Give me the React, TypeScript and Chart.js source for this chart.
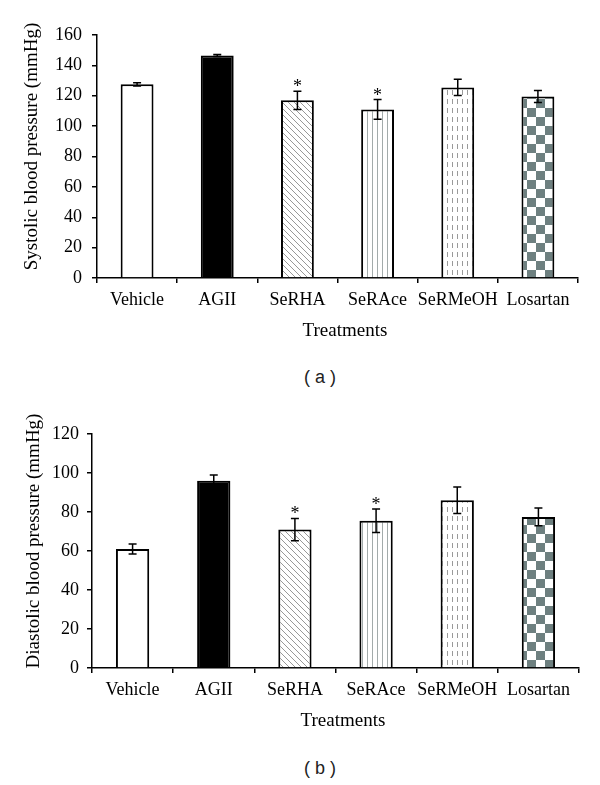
import React, { useEffect, useRef } from 'react';
import { Chart, registerables } from 'chart.js';

Chart.register(...registerables);

// ---------- data ----------
const categories = ['Vehicle', 'AGII', 'SeRHA', 'SeRAce', 'SeRMeOH', 'Losartan'];

const systolicMeans = [127.5, 146.5, 117, 111, 125.5, 119.5];
const systolicErrors = [1, 0.7, 6, 6.5, 5.3, 4];
const systolicSignificant = [false, false, true, true, false, false];
const systolicMax = 160;

const diastolicMeans = [61, 96, 71, 75.5, 86, 77.5];
const diastolicErrors = [2.6, 3, 5.7, 6, 6.8, 4.5];
const diastolicSignificant = [false, false, true, true, false, false];
const diastolicMax = 120;

const tickStep = 20;
const fillKinds = ['white', 'black', 'diag', 'vert', 'dash', 'check'];

const SERIF = "'Liberation Serif', 'Times New Roman', serif";
const SANS = "'Liberation Sans', Arial, sans-serif";

function makeFill(kind: string): any {
  if (kind === 'white') return '#ffffff';
  if (kind === 'black') return '#000000';
  const c = document.createElement('canvas');
  const g = c.getContext('2d') as CanvasRenderingContext2D;
  if (kind === 'diag') {
    c.width = 6; c.height = 6;
    g.fillStyle = '#fff'; g.fillRect(0, 0, 6, 6);
    g.strokeStyle = '#8c8c8c'; g.lineWidth = 0.9;
    g.beginPath();
    g.moveTo(0, 0); g.lineTo(6, 6);
    g.moveTo(-3, 3); g.lineTo(3, 9);
    g.moveTo(3, -3); g.lineTo(9, 3);
    g.stroke();
  } else if (kind === 'vert') {
    c.width = 5; c.height = 4;
    g.fillStyle = '#fff'; g.fillRect(0, 0, 5, 4);
    g.fillStyle = '#a3abab'; g.fillRect(2, 0, 1, 4);
  } else if (kind === 'dash') {
    c.width = 5; c.height = 9;
    g.fillStyle = '#fff'; g.fillRect(0, 0, 5, 9);
    g.fillStyle = '#9a9a9a'; g.fillRect(2, 0, 1, 5);
  } else if (kind === 'check') {
    c.width = 18; c.height = 18;
    g.fillStyle = '#fff'; g.fillRect(0, 0, 18, 18);
    g.fillStyle = '#6e8080';
    g.fillRect(0, 0, 9, 9); g.fillRect(9, 9, 9, 9);
  }
  const pat = g.createPattern(c, 'repeat') as CanvasPattern;
  if (kind === 'check' && pat && typeof DOMMatrix !== 'undefined') {
    pat.setTransform(new DOMMatrix().translate(5, 0));
  }
  return pat;
}

const errorBarPlugin = {
  id: 'errorBars',
  afterDatasetsDraw(chart: any, _args: any, opts: any) {
    const { ctx } = chart;
    const y = chart.scales.y;
    const meta = chart.getDatasetMeta(0);
    const values = chart.data.datasets[0].data as number[];
    ctx.save();
    ctx.strokeStyle = '#000';
    ctx.fillStyle = '#000';
    ctx.lineWidth = 1.5;
    meta.data.forEach((bar: any, i: number) => {
      const x = bar.x;
      const top = y.getPixelForValue(values[i] + opts.errors[i]);
      const bot = y.getPixelForValue(values[i] - opts.errors[i]);
      ctx.beginPath();
      ctx.moveTo(x, top); ctx.lineTo(x, bot);
      ctx.moveTo(x - 4, top); ctx.lineTo(x + 4, top);
      ctx.moveTo(x - 4, bot); ctx.lineTo(x + 4, bot);
      ctx.stroke();
      if (opts.stars[i]) {
        ctx.font = `18px ${SERIF}`;
        ctx.textAlign = 'center';
        ctx.textBaseline = 'alphabetic';
        ctx.fillText('*', x, top + 1);
      }
    });
    ctx.restore();
  },
};

const axisTitlePlugin = {
  id: 'axisTitles',
  afterDraw(chart: any, _args: any, o: any) {
    const { ctx, chartArea: ca } = chart;
    ctx.save();
    ctx.fillStyle = '#000';
    ctx.font = `19px ${SERIF}`;
    ctx.textAlign = 'center';
    ctx.textBaseline = 'middle';
    ctx.fillText(o.xTitle, (ca.left + ca.right) / 2 + o.xShift, ca.bottom + o.xGap);
    ctx.translate(o.yX, (ca.top + ca.bottom) / 2 + o.yShift);
    ctx.rotate(-Math.PI / 2);
    ctx.fillText(o.yTitle, 0, 0);
    ctx.restore();
  },
};

type PanelProps = {
  top: number;
  means: number[];
  errors: number[];
  stars: boolean[];
  yMax: number;
  yTitle: string;
  caption: string;
  padTop: number;
  axisX: number;
  padRight: number;
  tickPad: number;
  yTitleX: number;
  captionY: number;
};

function Panel(p: PanelProps) {
  const ref = useRef<HTMLCanvasElement>(null);
  useEffect(() => {
    if (!ref.current) return;
    const fills = fillKinds.map(makeFill);
    const chart = new Chart(ref.current, {
      type: 'bar',
      data: {
        labels: categories,
        datasets: [
          {
            data: p.means,
            backgroundColor: fills,
            borderColor: '#000',
            borderWidth: 2,
            borderSkipped: 'bottom',
            barPercentage: 0.41,
            categoryPercentage: 1,
          },
        ],
      },
      options: {
        responsive: false,
        animation: false,
        devicePixelRatio: 1,
        layout: { padding: { top: p.padTop, right: p.padRight, left: 0, bottom: 0 } },
        plugins: {
          legend: { display: false },
          tooltip: { enabled: false },
          errorBars: { errors: p.errors, stars: p.stars },
          axisTitles: {
            xTitle: 'Treatments',
            xShift: 7.5,
            xGap: 53.5,
            yTitle: p.yTitle,
            yX: p.yTitleX,
            yShift: -10,
          },
        } as any,
        scales: {
          x: {
            type: 'category',
            offset: true,
            grid: {
              display: true,
              offset: true,
              drawOnChartArea: false,
              drawTicks: true,
              tickLength: 5,
              color: '#000',
              lineWidth: 1.5,
            },
            border: { display: true, color: '#000', width: 1.5 },
            ticks: {
              color: '#000',
              font: { family: SERIF, size: 18 },
              padding: 6,
              autoSkip: false,
              maxRotation: 0,
              minRotation: 0,
            },
            afterFit: (s: any) => {
              s.height = 67;
            },
          },
          y: {
            min: 0,
            max: p.yMax,
            grid: {
              display: true,
              drawOnChartArea: false,
              drawTicks: true,
              tickLength: 5,
              color: '#000',
              lineWidth: 1.5,
            },
            border: { display: true, color: '#000', width: 1.5 },
            ticks: {
              stepSize: tickStep,
              color: '#000',
              font: { family: SERIF, size: 18 },
              padding: p.tickPad,
            },
            afterFit: (s: any) => {
              s.width = p.axisX;
            },
          },
        },
      } as any,
      plugins: [errorBarPlugin, axisTitlePlugin],
    });
    return () => chart.destroy();
  }, []);

  return (
    <>
      <canvas
        ref={ref}
        width={600}
        height={345}
        style={{ position: 'absolute', left: 0, top: p.top, width: 600, height: 345 }}
      />
      <div
        style={{
          position: 'absolute',
          left: 270,
          width: 100,
          top: p.captionY - 11,
          height: 22,
          lineHeight: '22px',
          textAlign: 'center',
          fontFamily: SANS,
          fontSize: 18,
          color: '#222',
          whiteSpace: 'pre',
        }}
      >
        {p.caption}
      </div>
    </>
  );
}

export default function App() {
  return (
    <div style={{ position: 'absolute', left: 0, top: 0, width: 600, height: 785, background: '#fff' }}>
      <Panel
        top={0}
        means={systolicMeans}
        errors={systolicErrors}
        stars={systolicSignificant}
        yMax={systolicMax}
        yTitle="Systolic blood pressure (mmHg)"
        caption="( a )"
        padTop={35}
        axisX={97}
        padRight={22}
        tickPad={10}
        yTitleX={32}
        captionY={377}
      />
      <Panel
        top={390}
        means={diastolicMeans}
        errors={diastolicErrors}
        stars={diastolicSignificant}
        yMax={diastolicMax}
        yTitle="Diastolic blood pressure (mmHg)"
        caption="( b )"
        padTop={44}
        axisX={92}
        padRight={21}
        tickPad={8}
        yTitleX={34}
        captionY={768}
      />
    </div>
  );
}
